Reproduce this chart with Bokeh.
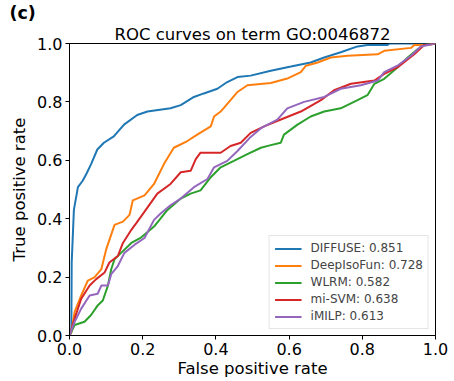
from bokeh.plotting import figure
from bokeh.models import Legend, LegendItem, FixedTicker, Title
from bokeh.embed import file_html
from bokeh.resources import INLINE

# ---- data ----
models = ["DIFFUSE", "DeepIsoFun", "WLRM", "mi-SVM", "iMILP"]
aucs = ["0.851", "0.728", "0.582", "0.638", "0.613"]
colors = ["#1f77b4", "#ff7f0e", "#2ca02c", "#d62728", "#9467bd"]

diffuse_fpr = [0, 0.005, 0.006, 0.012, 0.023, 0.036, 0.046, 0.059, 0.076, 0.094, 0.121, 0.149, 0.185, 0.213,
               0.276, 0.304, 0.34, 0.367, 0.404, 0.431, 0.459, 0.495, 0.55, 0.605, 0.659, 0.696, 0.741, 0.787,
               0.814, 0.869, 0.875, 1.0]
diffuse_tpr = [0, 0.013, 0.25, 0.43, 0.508, 0.53, 0.553, 0.587, 0.637, 0.66, 0.682, 0.722, 0.755, 0.767,
               0.778, 0.789, 0.817, 0.829, 0.845, 0.868, 0.885, 0.89, 0.907, 0.921, 0.935, 0.952, 0.97, 0.99,
               0.995, 0.995, 1.0, 1.0]

deepisofun_fpr = [0, 0.005, 0.014, 0.032, 0.05, 0.068, 0.087, 0.1, 0.123, 0.146, 0.164, 0.173, 0.205, 0.231,
                  0.258, 0.285, 0.322, 0.349, 0.386, 0.395, 0.413, 0.44, 0.459, 0.486, 0.55, 0.595, 0.632, 0.646,
                  0.678, 0.714, 0.76, 0.842, 0.86, 0.933, 0.942, 0.979, 1.0]
deepisofun_tpr = [0, 0.01, 0.081, 0.137, 0.188, 0.199, 0.227, 0.294, 0.379, 0.39, 0.413, 0.463, 0.48, 0.519,
                  0.587, 0.643, 0.666, 0.688, 0.716, 0.75, 0.767, 0.806, 0.834, 0.857, 0.865, 0.88, 0.902, 0.924,
                  0.935, 0.952, 0.958, 0.963, 0.975, 0.985, 0.995, 0.995, 1.0]

wlrm_fpr = [0, 0.014, 0.041, 0.059, 0.077, 0.091, 0.105, 0.114, 0.123, 0.141, 0.169, 0.194, 0.231, 0.267,
            0.304, 0.331, 0.358, 0.386, 0.413, 0.449, 0.486, 0.523, 0.55, 0.577, 0.586, 0.623, 0.659, 0.696,
            0.741, 0.787, 0.814, 0.833, 0.86, 0.896, 0.924, 0.951, 0.969, 1.0]
wlrm_tpr = [0, 0.036, 0.047, 0.07, 0.103, 0.12, 0.171, 0.227, 0.261, 0.283, 0.317, 0.334, 0.373, 0.429,
            0.469, 0.486, 0.497, 0.542, 0.576, 0.598, 0.621, 0.643, 0.652, 0.66, 0.688, 0.722, 0.75, 0.767,
            0.778, 0.806, 0.823, 0.862, 0.879, 0.918, 0.952, 0.98, 0.995, 1.0]

misvm_fpr = [0, 0.014, 0.032, 0.055, 0.073, 0.096, 0.109, 0.132, 0.146, 0.169, 0.182, 0.205, 0.24, 0.276,
             0.304, 0.331, 0.345, 0.358, 0.413, 0.44, 0.468, 0.495, 0.532, 0.586, 0.632, 0.687, 0.723, 0.769,
             0.833, 0.86, 0.896, 0.942, 0.969, 1.0]
misvm_tpr = [0, 0.058, 0.126, 0.171, 0.193, 0.216, 0.25, 0.272, 0.317, 0.362, 0.384, 0.424, 0.486, 0.519,
             0.559, 0.564, 0.604, 0.626, 0.626, 0.649, 0.66, 0.694, 0.716, 0.744, 0.767, 0.806, 0.84, 0.862,
             0.873, 0.896, 0.918, 0.963, 0.995, 1.0]

imilp_fpr = [0, 0.014, 0.032, 0.055, 0.077, 0.087, 0.105, 0.114, 0.132, 0.15, 0.178, 0.205, 0.231, 0.249,
             0.276, 0.304, 0.34, 0.377, 0.395, 0.431, 0.459, 0.495, 0.523, 0.568, 0.595, 0.641, 0.696, 0.741,
             0.796, 0.842, 0.86, 0.896, 0.933, 0.96, 0.98, 1.0]
imilp_tpr = [0, 0.047, 0.092, 0.137, 0.143, 0.171, 0.171, 0.21, 0.238, 0.283, 0.311, 0.334, 0.396, 0.418,
             0.446, 0.469, 0.508, 0.536, 0.576, 0.598, 0.632, 0.68, 0.71, 0.739, 0.778, 0.8, 0.817, 0.845,
             0.857, 0.873, 0.902, 0.924, 0.958, 0.99, 0.995, 1.0]

tick_values = [0.0, 0.2, 0.4, 0.6, 0.8, 1.0]
tick_labels = ["0.0", "0.2", "0.4", "0.6", "0.8", "1.0"]

curves = [(diffuse_fpr, diffuse_tpr), (deepisofun_fpr, deepisofun_tpr), (wlrm_fpr, wlrm_tpr),
          (misvm_fpr, misvm_tpr), (imilp_fpr, imilp_tpr)]

FONT = "DejaVu Sans"

p = figure(width=454, height=381, output_backend="svg", toolbar_location=None,
           x_range=(0, 1), y_range=(0, 1), title=None,
           min_border_left=69, min_border_right=19, min_border_top=38, min_border_bottom=46)

main_title = Title(text="ROC curves on term GO:0046872", align="center", text_font=FONT,
                   text_font_size="16.5px", text_font_style="normal", text_color="black", standoff=0)
p.add_layout(main_title, "above")
tag = Title(text="(c)", align="left", offset=-60, text_font=FONT, text_font_size="17.5px",
            text_font_style="bold", text_color="black", standoff=0)
p.add_layout(tag, "above")

p.grid.visible = False
p.outline_line_color = "black"
p.outline_line_width = 1
p.background_fill_color = "white"
p.border_fill_color = "white"

for ax in (p.xaxis, p.yaxis):
    ax.ticker = FixedTicker(ticks=tick_values)
    ax.major_label_overrides = {v: l for v, l in zip(tick_values, tick_labels)}
    ax.minor_tick_line_color = None
    ax.major_tick_out = 4
    ax.major_tick_in = 0
    ax.major_label_standoff = 3
    ax.major_label_text_font = FONT
    ax.major_label_text_font_size = "16px"
    ax.major_label_text_color = "black"
    ax.axis_label_text_font = FONT
    ax.axis_label_text_font_size = "16.5px"
    ax.axis_label_text_font_style = "normal"
    ax.axis_label_text_color = "black"
    ax.axis_line_color = "black"
    ax.major_tick_line_color = "black"

p.xaxis.axis_label = "False positive rate"
p.yaxis.axis_label = "True positive rate"
p.xaxis.axis_label_standoff = 1
p.yaxis.axis_label_standoff = 5

items = []
for (fx, fy), name, auc, c in zip(curves, models, aucs, colors):
    r = p.line(fx, fy, line_color=c, line_width=2)
    items.append(LegendItem(label=f"{name}: {auc}", renderers=[r]))

legend = Legend(items=items, location="bottom_right")
legend.label_text_font = FONT
legend.label_text_font_size = "12px"
legend.glyph_width = 27
legend.glyph_height = 13
legend.label_height = 13
legend.label_standoff = 9
legend.spacing = 3
legend.padding = 5
legend.margin = 6
legend.border_line_color = "#cccccc"
legend.border_line_width = 1
legend.background_fill_alpha = 0.8
p.add_layout(legend)

open("out.html", "w").write(file_html(p, INLINE))
